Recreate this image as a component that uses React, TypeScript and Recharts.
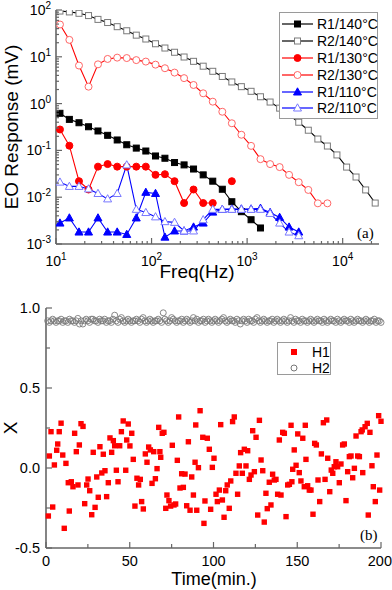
import { LineChart, Line, ScatterChart, Scatter, XAxis, YAxis, Legend } from "recharts";

const FONT = '"Liberation Sans", Arial, Helvetica, sans-serif';
const SERIF = '"Liberation Serif", "Times New Roman", serif';
const AXIS = "#666";

// ---------- (a) EO response vs frequency ----------
const freqHz = [
  11, 13.8, 17.4, 21.9, 27.5, 34.7, 43.7, 55, 69.2, 87.1, 110, 138, 174, 219, 275, 347, 437,
  550, 692, 871, 1100, 1380, 1740, 2190, 2750, 3470, 4370, 5500, 6920, 8710, 11000, 13800,
  17400, 21900,
];
const r1At140 = [
  0.62, 0.46, 0.39, 0.32, 0.26, 0.21, 0.167, 0.132, 0.112, 0.097, 0.076, 0.068, 0.055, 0.049,
  0.04, 0.03, 0.022, 0.0148, 0.008, 0.0049, 0.0033, 0.0022,
];
const r2At140 = [
  95, 91, 85, 76, 63, 54, 44, 36, 29, 24, 19, 15.4, 12.5, 9.9, 8.0, 6.3, 4.9, 3.8, 2.9, 2.3,
  1.83, 1.4, 1.08, 0.8, 0.57, 0.4, 0.27, 0.175, 0.124, 0.08, 0.044, 0.027, 0.0143, 0.0075,
];
const r1At130 = [
  0.28, 0.126, 0.022, 0.0146, 0.045, 0.051, 0.045, 0.045, 0.045, 0.045, 0.03, 0.031, 0.022,
  0.0075, 0.0146, 0.0075, 0.0075, null, 0.022,
];
const r2At130 = [
  49, 23, 6.5, 2.3, 6.9, 9.0, 9.6, 9.4, 8.5, 7.9, 6.8, 5.7, 4.6, 3.5, 2.5, 1.66, 1.1, 0.67,
  0.38, 0.216, 0.125, 0.065, 0.051, 0.044, 0.03, 0.0209, 0.0143, 0.0074, 0.0074,
];
const r1At110 = [
  0.0028, 0.0036, 0.0018, 0.0018, 0.0036, 0.0018, 0.0018, 0.0016, 0.0036, 0.0127, 0.012,
  0.0014, 0.0019, 0.0019, 0.0023, 0.0028, 0.0048, 0.0055, 0.0056, 0.0056, 0.0056, 0.0058,
  0.0047, 0.0037, 0.0023, 0.0018,
];
const r2At110 = [
  0.021, 0.017, 0.017, 0.015, 0.012, 0.0092, 0.012, 0.049, 0.0055, 0.0047, 0.0038, 0.003,
  0.0029, 0.0019, 0.0019, 0.0033, 0.0055, 0.0055, 0.0055, 0.0055, 0.0055, 0.0055, 0.0045,
  0.0028, 0.0018, 0.0015,
];
const freqTicks = [
  10, 20, 30, 40, 50, 60, 70, 80, 90, 100, 200, 300, 400, 500, 600, 700, 800, 900, 1000, 2000,
  3000, 4000, 5000, 6000, 7000, 8000, 9000, 10000, 20000,
];
const respTicks = [
  0.001, 0.002, 0.003, 0.004, 0.005, 0.006, 0.007, 0.008, 0.009, 0.01, 0.02, 0.03, 0.04, 0.05,
  0.06, 0.07, 0.08, 0.09, 0.1, 0.2, 0.3, 0.4, 0.5, 0.6, 0.7, 0.8, 0.9, 1, 2, 3, 4, 5, 6, 7, 8,
  9, 10, 20, 30, 40, 50, 60, 70, 80, 90, 100,
];

// ---------- (b) X vs time ----------
const h1Time = [
  1.4, 2, 3, 4, 5, 6.4, 7, 7.9, 9, 10, 10.9, 11.9, 13.3, 13.9, 15.1, 16.1, 17.1, 18.1, 19.1,
  19.9, 20.9, 22.1, 23.1, 24.3, 25.1, 26.1, 27.3, 28.2, 29.3, 30.3, 31.2, 32.2, 33.3, 34.2,
  35.2, 36.2, 37.2, 38.2, 39.2, 40.2, 41, 42, 43, 44, 45, 46.1, 47.6, 48.2, 49.1, 50.1, 51.2,
  52.1, 53.1, 54.3, 55.3, 56.3, 57.1, 58.1, 59.3, 60.3, 61.3, 62.3, 63.3, 64.3, 65.3, 66.3,
  67.3, 68, 68.5, 69.4, 70.4, 71.5, 72.2, 73.4, 74.4, 75.4, 76.4, 77.4, 78.4, 79.2, 80, 81, 82,
  83, 84, 85, 86, 87, 88, 89, 89.4, 90, 91, 92, 93.6, 94.3, 94.9, 96.3, 97.5, 98.3, 99.3,
  100.3, 101.5, 102.3, 103.5, 104.3, 105.3, 106.3, 107.3, 108.2, 109.4, 110.3, 111.4, 112.4,
  113.4, 114.4, 115.4, 116.2, 117.2, 118.4, 119.4, 120.4, 121.4, 122.4, 123.4, 124.4, 125.4,
  126.4, 127.4, 128.4, 129.4, 130.3, 131.3, 132.1, 133.3, 134.3, 135.3, 136.3, 137.3, 138.3,
  139.3, 140.3, 141.3, 142.3, 143.3, 144.3, 145.3, 146.3, 146.8, 147.3, 148.2, 149.3, 150.3,
  151.2, 152.2, 153.3, 154.2, 154.8, 155.2, 156.2, 157.2, 158.2, 159.4, 160.4, 161.4, 162.4,
  163.4, 164.4, 165.6, 166.6, 167.6, 168.2, 169.4, 170.3, 171.2, 172.1, 173.1, 174.1, 175.1,
  176.1, 177.1, 178.1, 179.1, 180.1, 181.1, 182.1, 183.1, 184.1, 185.1, 186.1, 187.1, 188.1,
  188.8, 189.1, 190.5, 191.8, 192.4, 193.4, 194.6, 195.4, 196.6, 197.6, 198.6, 199.2, 200,
];
const h1Value = [
  -0.3, 0.075, 0.227, -0.244, 0.019, 0.111, 0.15, 0.227, 0.28, 0.081, -0.377, 0.029, -0.092,
  -0.269, -0.086, -0.117, 0.217, 0.102, -0.106, 0.144, 0.277, 0.26, -0.223, -0.106, -0.069,
  -0.142, -0.292, 0.098, -0.246, -0.056, -0.183, 0.133, -0.031, 0.086, -0.017, -0.179, -0.092,
  0.188, 0.098, 0.171, 0.139, -0.014, -0.086, 0.139, 0.227, 0.294, -0.014, 0.175, 0.275, 0.138,
  0.217, 0.054, -0.238, -0.064, -0.106, -0.071, -0.21, -0.256, 0.088, 0.036, 0.131, 0.113,
  -0.096, 0.102, -0.067, -0.004, 0.254, 0.102, 0.067, 0.217, 0.223, -0.252, -0.169, -0.204,
  -0.238, 0.142, -0.231, -0.225, 0.048, 0.319, -0.125, -0.036, -0.121, -0.038, -0.236, 0.164,
  -0.264, -0.056, -0.169, 0.036, 0.269, -0.264, 0.002, 0.358, 0.192, -0.346, -0.206, 0.186,
  0.117, -0.258, 0.004, 0.061, -0.164, -0.21, -0.138, 0.271, -0.2, -0.308, -0.142, -0.106,
  -0.252, -0.081, 0.29, 0.319, -0.033, -0.164, 0.013, 0.096, -0.033, 0.117, 0.013, 0.108,
  -0.071, -0.044, 0.233, -0.023, 0.192, -0.294, 0.298, 0.05, -0.017, -0.338, -0.158, -0.254,
  -0.089, -0.231, -0.039, -0.075, -0.071, -0.164, 0.175, -0.169, 0.223, 0.217, -0.304, -0.106,
  -0.102, 0.267, -0.086, -0.008, 0.113, 0.017, 0.213, -0.029, -0.081, 0.186, -0.117, 0.267,
  0.054, -0.111, -0.138, -0.138, -0.289, 0.154, 0.144, -0.075, -0.21, 0.088, 0.283, -0.071, 0.3,
  0.061, -0.148, -0.013, -0.033, 0.008, 0.039, 0.008, -0.092, 0.025, 0.144, 0.15, -0.204,
  -0.023, 0.071, 0.075, -0.061, -0.002, 0.2, 0.075, 0.071, 0.227, 0.238, -0.029, 0.258, 0.279,
  -0.294, 0.223, 0.014, -0.117, -0.21, 0.081, 0.327, -0.138, 0.292,
];
// one H2 reading per minute, t = 1..200
const h2Value = [
  0.92, 0.91, 0.92, 0.93, 0.92, 0.91, 0.92, 0.92, 0.93, 0.91, 0.92, 0.92, 0.91, 0.93, 0.92,
  0.92, 0.91, 0.92, 0.935, 0.9, 0.92, 0.9, 0.92, 0.93, 0.92, 0.91, 0.93, 0.93, 0.92, 0.92,
  0.91, 0.93, 0.92, 0.92, 0.93, 0.91, 0.92, 0.92, 0.91, 0.93, 0.955, 0.92, 0.91, 0.93, 0.94,
  0.92, 0.91, 0.92, 0.93, 0.92, 0.91, 0.92, 0.92, 0.93, 0.92, 0.91, 0.93, 0.94, 0.92, 0.91,
  0.92, 0.93, 0.92, 0.91, 0.92, 0.92, 0.93, 0.92, 0.91, 0.97, 0.93, 0.92, 0.91, 0.92, 0.94,
  0.93, 0.92, 0.91, 0.92, 0.92, 0.93, 0.91, 0.92, 0.93, 0.92, 0.91, 0.92, 0.94, 0.92, 0.93,
  0.91, 0.92, 0.92, 0.93, 0.91, 0.92, 0.93, 0.92, 0.91, 0.92, 0.93, 0.92, 0.91, 0.92, 0.93,
  0.94, 0.92, 0.91, 0.92, 0.93, 0.92, 0.92, 0.91, 0.93, 0.92, 0.9, 0.92, 0.93, 0.92, 0.91,
  0.93, 0.92, 0.92, 0.91, 0.93, 0.94, 0.92, 0.91, 0.92, 0.93, 0.92, 0.91, 0.92, 0.92, 0.93,
  0.91, 0.92, 0.93, 0.92, 0.91, 0.92, 0.93, 0.92, 0.91, 0.92, 0.94, 0.92, 0.91, 0.93, 0.92,
  0.92, 0.91, 0.93, 0.92, 0.92, 0.91, 0.92, 0.93, 0.92, 0.91, 0.92, 0.93, 0.92, 0.92, 0.91,
  0.93, 0.92, 0.91, 0.92, 0.93, 0.92, 0.92, 0.91, 0.93, 0.92, 0.91, 0.92, 0.93, 0.92, 0.92,
  0.91, 0.93, 0.92, 0.91, 0.92, 0.93, 0.92, 0.92, 0.91, 0.92, 0.93, 0.92, 0.91, 0.92, 0.92,
  0.93, 0.91, 0.92, 0.92, 0.91,
];
const timeTicks = [0, 25, 50, 75, 100, 125, 150, 175, 200];
const xTicks = [-0.5, -0.25, 0, 0.25, 0.5, 0.75, 1.0];

type Kind = "square" | "circle" | "triangle";
const seriesA: { key: string; name: string; line: string; kind: Kind; fill: string; stroke: string }[] = [
  { key: "r1At140", name: "R1/140°C", line: "#000", kind: "square", fill: "#000", stroke: "#000" },
  { key: "r2At140", name: "R2/140°C", line: "#000", kind: "square", fill: "#fff", stroke: "#7a7a7a" },
  { key: "r1At130", name: "R1/130°C", line: "#ff0000", kind: "circle", fill: "#ff0000", stroke: "#ff0000" },
  { key: "r2At130", name: "R2/130°C", line: "#ff0000", kind: "circle", fill: "#fff", stroke: "#ff6666" },
  { key: "r1At110", name: "R1/110°C", line: "#0000ff", kind: "triangle", fill: "#0000ff", stroke: "#0000ff" },
  { key: "r2At110", name: "R2/110°C", line: "#0000ff", kind: "triangle", fill: "#fff", stroke: "#7878ff" },
];

const freqRows = freqHz.map((f, i) => ({
  f,
  r1At140: r1At140[i] ?? null,
  r2At140: r2At140[i] ?? null,
  r1At130: r1At130[i] ?? null,
  r2At130: r2At130[i] ?? null,
  r1At110: r1At110[i] ?? null,
  r2At110: r2At110[i] ?? null,
}));
const h1Rows = h1Time.map((t, i) => ({ t, v: h1Value[i] }));
const h2Rows = h2Value.map((v, i) => ({ t: i + 1, v }));

function Marker({ kind, x, y, fill, stroke }: { kind: Kind; x: number; y: number; fill: string; stroke: string }) {
  if (kind === "square") return <rect x={x - 3} y={y - 3} width={6} height={6} fill={fill} stroke={stroke} />;
  if (kind === "circle") return <circle cx={x} cy={y} r={3.5} fill={fill} stroke={stroke} />;
  return <polygon points={`${x},${y - 4.2} ${x - 4},${y + 3} ${x + 4},${y + 3}`} fill={fill} stroke={stroke} />;
}

const dotFor = (s: (typeof seriesA)[number]) => (p: any) => {
  const k = `${s.key}-${p.index}`;
  if (p.value == null || p.cx == null || p.cy == null) return <g key={k} />;
  return (
    <g key={k}>
      <Marker kind={s.kind} x={p.cx} y={p.cy} fill={s.fill} stroke={s.stroke} />
    </g>
  );
};

const isPow10 = (v: number) => Math.abs(Math.log10(v) - Math.round(Math.log10(v))) < 1e-6;

const Pow = ({ x, y, v, anchor }: { x: number; y: number; v: number; anchor: "middle" | "end" }) => (
  <text x={x} y={y} textAnchor={anchor} fontSize={14} fontFamily={FONT} fill="#000">
    10
    <tspan dy={-6} fontSize={10}>
      {Math.round(Math.log10(v))}
    </tspan>
  </text>
);

// tick renderers: ticks point inward, minor ones shorter
const logBottomTick = (p: any) => {
  const v = p.payload.value;
  const major = isPow10(v);
  return (
    <g>
      <line x1={p.x} x2={p.x} y1={p.y} y2={p.y - (major ? 6 : 3)} stroke={AXIS} strokeWidth={1.2} />
      {major && <Pow x={p.x} y={p.y + 22} v={v} anchor="middle" />}
    </g>
  );
};
const logTopTick = (p: any) => {
  const major = isPow10(p.payload.value);
  return <line x1={p.x} x2={p.x} y1={p.y} y2={p.y + (major ? 6 : 3)} stroke={AXIS} strokeWidth={1.2} />;
};
const logLeftTick = (p: any) => {
  const v = p.payload.value;
  const major = isPow10(v);
  return (
    <g>
      <line x1={p.x} x2={p.x + (major ? 6 : 3)} y1={p.y} y2={p.y} stroke={AXIS} strokeWidth={1.2} />
      {major && <Pow x={p.x - 5} y={p.y + 5} v={v} anchor="end" />}
    </g>
  );
};
const logRightTick = (p: any) => {
  const major = isPow10(p.payload.value);
  return <line x1={p.x} x2={p.x - (major ? 6 : 3)} y1={p.y} y2={p.y} stroke={AXIS} strokeWidth={1.2} />;
};

const timeBottomTick = (p: any) => {
  const v = p.payload.value;
  const major = v % 50 === 0;
  return (
    <g>
      <line x1={p.x} x2={p.x} y1={p.y} y2={p.y - (major ? 6 : 4)} stroke={AXIS} strokeWidth={1.2} />
      {major && (
        <text x={p.x} y={p.y + 18} textAnchor={v === 200 ? "end" : "middle"} dx={v === 200 ? 11 : 0} fontSize={14.5} fontFamily={FONT} fill="#000">
          {v}
        </text>
      )}
    </g>
  );
};
const timeTopTick = (p: any) => (
  <line x1={p.x} x2={p.x} y1={p.y} y2={p.y + 5} stroke={AXIS} strokeWidth={1.2} />
);
const xLeftTick = (p: any) => {
  const v = p.payload.value;
  const major = Math.abs(v * 2 - Math.round(v * 2)) < 1e-6;
  return (
    <g>
      <line x1={p.x} x2={p.x + (major ? 6 : 4)} y1={p.y} y2={p.y} stroke={AXIS} strokeWidth={1.2} />
      {major && (
        <text x={p.x - 6} y={p.y + 5} textAnchor="end" fontSize={14.5} fontFamily={FONT} fill="#000">
          {v.toFixed(1)}
        </text>
      )}
    </g>
  );
};
const xRightTick = (p: any) => (
  <line x1={p.x} x2={p.x - 5} y1={p.y} y2={p.y} stroke={AXIS} strokeWidth={1.2} />
);

const axisLine = { stroke: AXIS, strokeWidth: 1.6 };

const LegendA = () => (
  <div style={{ border: "1px solid #9a9a9a", background: "#fff", padding: "3px 0 1px 0", boxSizing: "border-box", width: 99 }}>
    {seriesA.map((s) => (
      <div key={s.key} style={{ display: "flex", alignItems: "center", height: 16.8 }}>
        <svg width={33} height={12} style={{ marginLeft: 1, flex: "none" }}>
          <line x1={1} x2={32} y1={6} y2={6} stroke={s.line} strokeWidth={1.2} />
          <Marker kind={s.kind} x={16.5} y={6} fill={s.fill} stroke={s.stroke} />
        </svg>
        <span style={{ fontSize: 14, marginLeft: 3, fontFamily: FONT, color: "#000", lineHeight: 1, whiteSpace: "nowrap" }}>
          {s.name}
        </span>
      </div>
    ))}
  </div>
);

const LegendB = () => (
  <div style={{ border: "1px solid #9a9a9a", background: "#fff", padding: "1px 0 0 0", boxSizing: "border-box", width: 54, height: 33 }}>
    {[
      { name: "H1", el: <rect x={13} y={4} width={6} height={6} fill="#ff0000" /> },
      { name: "H2", el: <circle cx={16} cy={7} r={3} fill="none" stroke="#777" /> },
    ].map((r) => (
      <div key={r.name} style={{ display: "flex", alignItems: "center", height: 15.7 }}>
        <svg width={32} height={14} style={{ flex: "none" }}>
          {r.el}
        </svg>
        <span style={{ fontSize: 14, marginLeft: 2, fontFamily: FONT, color: "#000", lineHeight: 1 }}>{r.name}</span>
      </div>
    ))}
  </div>
);

export default function App() {
  return (
    <div style={{ position: "absolute", left: 0, top: 0, width: 392, height: 590, background: "#fff", fontFamily: FONT }}>
      <div style={{ position: "absolute", left: 0, top: 0 }}>
        <LineChart width={392} height={290} data={freqRows} margin={{ top: 10, right: 13, bottom: 0, left: 0 }}>
          <XAxis
            dataKey="f"
            type="number"
            scale="log"
            domain={[10, 24000]}
            allowDataOverflow
            ticks={freqTicks}
            interval={0}
            height={46}
            tickSize={0}
            tickMargin={0}
            tickLine={false}
            axisLine={axisLine}
            tick={logBottomTick}
            label={() => (
              <text x={197} y={278} textAnchor="middle" fontSize={19} fontFamily={FONT} fill="#000">
                Freq(Hz)
              </text>
            )}
          />
          <XAxis
            xAxisId="top"
            orientation="top"
            dataKey="f"
            type="number"
            scale="log"
            domain={[10, 24000]}
            allowDataOverflow
            ticks={freqTicks}
            interval={0}
            height={0}
            tickSize={0}
            tickMargin={0}
            tickLine={false}
            axisLine={axisLine}
            tick={logTopTick}
          />
          <YAxis
            type="number"
            scale="log"
            domain={[0.001, 100]}
            allowDataOverflow
            ticks={respTicks}
            interval={0}
            width={56}
            tickSize={0}
            tickMargin={0}
            tickLine={false}
            axisLine={axisLine}
            tick={logLeftTick}
            label={() => (
              <text
                x={18}
                y={127}
                transform="rotate(-90 18 127)"
                textAnchor="middle"
                fontSize={19}
                fontFamily={FONT}
                fill="#000"
              >
                EO Response (mV)
              </text>
            )}
          />
          <YAxis
            yAxisId="right"
            orientation="right"
            type="number"
            scale="log"
            domain={[0.001, 100]}
            allowDataOverflow
            ticks={respTicks}
            interval={0}
            width={0}
            tickSize={0}
            tickMargin={0}
            tickLine={false}
            axisLine={axisLine}
            tick={logRightTick}
          />
          {seriesA.map((s) => (
            <Line
              key={s.key}
              dataKey={s.key}
              name={s.name}
              stroke={s.line}
              strokeWidth={1.1}
              dot={dotFor(s)}
              activeDot={false}
              connectNulls={false}
              isAnimationActive={false}
            />
          ))}
          <Legend
            layout="vertical"
            align="center"
            verticalAlign="middle"
            wrapperStyle={{ left: 279, top: 12, width: 99 }}
            content={() => <LegendA />}
          />
        </LineChart>
      </div>

      <div style={{ position: "absolute", left: 0, top: 290 }}>
        <ScatterChart width={392} height={300} margin={{ top: 18, right: 11, bottom: 0, left: 0 }}>
          <XAxis
            dataKey="t"
            type="number"
            domain={[0, 200]}
            ticks={timeTicks}
            interval={0}
            height={42}
            tickSize={0}
            tickMargin={0}
            tickLine={false}
            axisLine={axisLine}
            tick={timeBottomTick}
            label={() => (
              <text x={214} y={295} textAnchor="middle" fontSize={18} fontFamily={FONT} fill="#000">
                Time(min.)
              </text>
            )}
          />
          <XAxis
            xAxisId="top"
            orientation="top"
            dataKey="t"
            type="number"
            domain={[0, 200]}
            ticks={timeTicks}
            interval={0}
            height={0}
            tickSize={0}
            tickMargin={0}
            tickLine={false}
            axisLine={axisLine}
            tick={timeTopTick}
          />
          <YAxis
            dataKey="v"
            type="number"
            domain={[-0.5, 1]}
            ticks={xTicks}
            interval={0}
            width={46}
            tickSize={0}
            tickMargin={0}
            tickLine={false}
            axisLine={axisLine}
            tick={xLeftTick}
            label={() => (
              <text x={17} y={138} transform="rotate(-90 17 138)" textAnchor="middle" fontSize={19} fontFamily={FONT} fill="#000">
                X
              </text>
            )}
          />
          <YAxis
            yAxisId="right"
            orientation="right"
            dataKey="v"
            type="number"
            domain={[-0.5, 1]}
            ticks={xTicks}
            interval={0}
            width={0}
            tickSize={0}
            tickMargin={0}
            tickLine={false}
            axisLine={axisLine}
            tick={xRightTick}
          />
          <Scatter
            name="H1"
            data={h1Rows}
            isAnimationActive={false}
            shape={(p: any) => <rect x={p.cx - 2.7} y={p.cy - 2.7} width={5.4} height={5.4} fill="#ff0000" />}
          />
          <Scatter
            name="H2"
            data={h2Rows}
            isAnimationActive={false}
            shape={(p: any) => <circle cx={p.cx} cy={p.cy} r={3} fill="none" stroke="#7a7a7a" strokeWidth={0.9} />}
          />
          <Legend
            layout="vertical"
            align="center"
            verticalAlign="middle"
            wrapperStyle={{ left: 277, top: 52, width: 54 }}
            content={() => <LegendB />}
          />
        </ScatterChart>
      </div>

      <span style={{ position: "absolute", left: 357, top: 225, fontSize: 15, fontFamily: SERIF }}>(a)</span>
      <span style={{ position: "absolute", left: 360, top: 527, fontSize: 15, fontFamily: SERIF }}>(b)</span>
    </div>
  );
}
